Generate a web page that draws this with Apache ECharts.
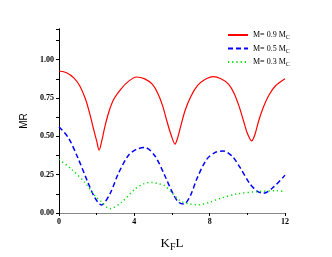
<!DOCTYPE html>
<html><head><meta charset="utf-8">
<script src="https://cdn.jsdelivr.net/npm/echarts@6/dist/echarts.min.js"></script>
<style>html,body{margin:0;padding:0;background:#fff}#c{width:332px;height:257px}</style>
</head><body><div id="c"></div>
<script>
const xTicks = [0, 4, 8, 12];
const yTicks = [0.00, 0.25, 0.50, 0.75, 1.00];
const legendNames = ['M= 0.9 M', 'M= 0.5 M', 'M= 0.3 M'];
const red09 = [[0,0.926],[0.4,0.915],[0.8,0.88],[1.1,0.83],[1.4,0.745],[1.65,0.64],[1.85,0.54],[2.0,0.47],[2.13,0.41],[2.27,0.47],[2.43,0.56],[2.65,0.66],[2.9,0.74],[3.3,0.81],[3.7,0.86],[4.12,0.887],[4.55,0.875],[4.95,0.84],[5.25,0.78],[5.5,0.70],[5.75,0.59],[5.95,0.51],[6.16,0.449],[6.3,0.49],[6.45,0.56],[6.7,0.67],[7.0,0.76],[7.35,0.83],[7.75,0.87],[8.19,0.889],[8.6,0.875],[9.0,0.84],[9.3,0.78],[9.55,0.70],[9.8,0.60],[10.0,0.52],[10.23,0.47],[10.4,0.51],[10.6,0.60],[10.85,0.69],[11.15,0.77],[11.5,0.83],[12,0.876]];
const blue05 = [[0,0.563],[0.5,0.49],[1.0,0.36],[1.5,0.21],[1.9,0.10],[2.25,0.052],[2.7,0.124],[3.14,0.254],[3.67,0.373],[4.1,0.415],[4.56,0.427],[5.09,0.373],[5.62,0.243],[6.06,0.124],[6.35,0.07],[6.63,0.058],[7.0,0.12],[7.31,0.22],[7.84,0.35],[8.3,0.395],[8.72,0.405],[9.2,0.37],[9.61,0.297],[10.14,0.19],[10.5,0.145],[10.85,0.128],[11.4,0.17],[12,0.247]];
const green03 = [[0,0.35],[0.66,0.286],[1.37,0.20],[1.9,0.113],[2.25,0.074],[2.7,0.028],[3.32,0.07],[4.03,0.156],[4.5,0.19],[4.91,0.20],[5.3,0.19],[5.62,0.178],[5.89,0.145],[6.43,0.08],[6.9,0.06],[7.4,0.054],[8.0,0.07],[8.55,0.095],[9.44,0.124],[10.5,0.139],[11.56,0.145],[12,0.14]];

const serif = 'Liberation Serif';
const tickLbl = {fontFamily: serif, fontWeight: 'bold', fontSize: 8, color: '#000'};
const chart = echarts.init(document.getElementById('c'), null, {renderer: 'canvas'});
chart.setOption({
  animation: false,
  grid: {left: 59, right: 47, top: 29, bottom: 43},
  legend: {
    orient: 'vertical', left: 222, top: 26, itemWidth: 20, itemHeight: 6, itemGap: 4,
    data: legendNames,
    itemStyle: {opacity: 0, borderWidth: 0},
    formatter: n => '{a|' + n + '}{s|C}',
    textStyle: {fontFamily: serif, fontSize: 8, color: '#000',
      rich: {a: {fontFamily: serif, fontSize: 8, color: '#000'},
             s: {fontFamily: serif, fontSize: 6, color: '#000', padding: [5, 0, 0, 0]}}}
  },
  xAxis: [{
    type: 'value', min: xTicks[0], max: xTicks[xTicks.length - 1], interval: 4,
    axisLine: {lineStyle: {color: '#000', width: 1}},
    axisTick: {show: true, length: 3, lineStyle: {color: '#000'}},
    minorTick: {show: true, splitNumber: 2, length: 2, lineStyle: {color: '#000'}},
    splitLine: {show: false},
    axisLabel: Object.assign({margin: 5}, tickLbl),
    name: '{a|K}{s|F}{a|L}', nameLocation: 'middle', nameGap: 22,
    nameTextStyle: {rich: {a: {fontFamily: serif, fontSize: 13, color: '#000'},
                           s: {fontFamily: serif, fontSize: 10, color: '#000', padding: [7, 0, 0, 0]}}}
  }, {
    type: 'value', position: 'top', min: 0, max: 12, interval: 4,
    axisLine: {show: true, lineStyle: {color: '#888', width: 1}},
    axisTick: {show: false}, axisLabel: {show: false}, splitLine: {show: false}
  }],
  yAxis: [{
    type: 'value', min: 0, max: 1.2, interval: 0.25,
    axisLine: {show: true, lineStyle: {color: '#000', width: 1}},
    axisTick: {show: true, length: 3, lineStyle: {color: '#000'}},
    minorTick: {show: true, splitNumber: 2, length: 2, lineStyle: {color: '#000'}},
    splitLine: {show: false},
    axisLabel: Object.assign({margin: 5, formatter: v => yTicks.includes(v) ? v.toFixed(2) : ''}, tickLbl),
    name: 'MR', nameLocation: 'middle', nameGap: 30,
    nameTextStyle: {fontFamily: 'Liberation Sans', fontSize: 10, color: '#000'}
  }, {
    type: 'value', position: 'right', min: 0, max: 1.2, interval: 0.125,
    axisLine: {show: true, lineStyle: {color: '#000', width: 1}},
    axisTick: {show: true, inside: true, length: 3, lineStyle: {color: '#000'}},
    axisLabel: {show: false}, splitLine: {show: false}
  }],
  series: [
    {name: legendNames[0], type: 'line', data: red09, smooth: 0.3, symbol: 'none',
     lineStyle: {color: '#ff0000', width: 1.2}, itemStyle: {color: '#ff0000'}},
    {name: legendNames[1], type: 'line', data: blue05, smooth: 0.3, symbol: 'none',
     lineStyle: {color: '#0000ff', width: 1.5, type: [5, 3]}, itemStyle: {color: '#0000ff'}},
    {name: legendNames[2], type: 'line', data: green03, smooth: 0.3, symbol: 'none',
     lineStyle: {color: '#00dd00', width: 1.5, type: [1.2, 3]}, itemStyle: {color: '#00dd00'}}
  ]
});
</script></body></html>
